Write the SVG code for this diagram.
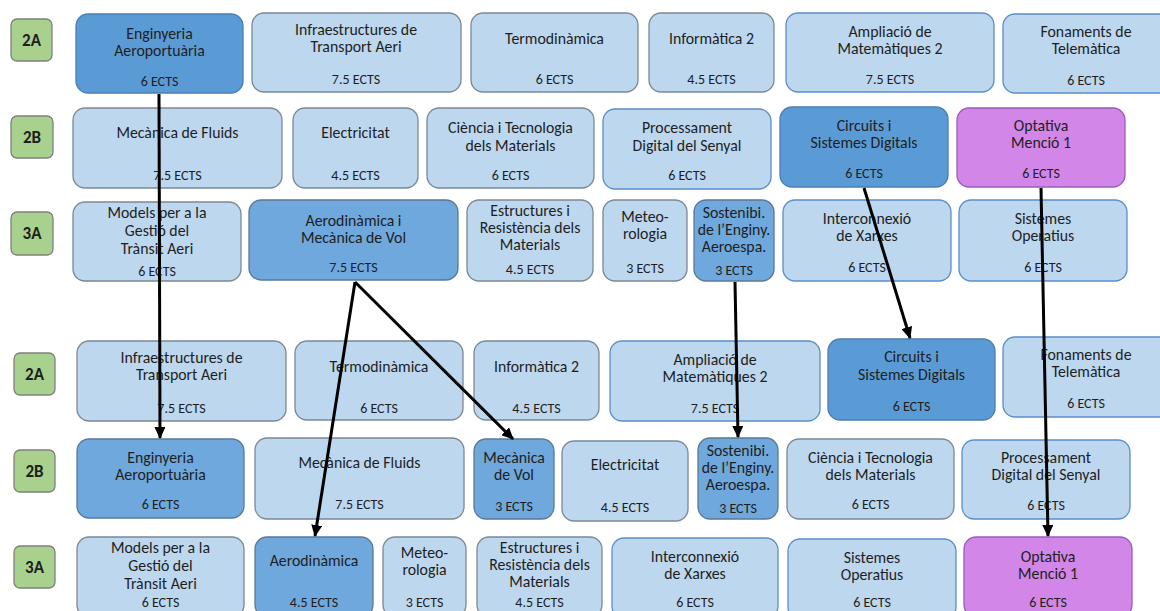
<svg xmlns="http://www.w3.org/2000/svg" width="1160" height="611" viewBox="0 0 1160 611">
<style>
rect{stroke-width:1.3}
.n{fill:#bdd7ee;stroke:#7b8896}
.nb{fill:#bdd7ee;stroke:#5b8fc9}
.d{fill:#5b9bd5;stroke:#4a7fb5}
.m{fill:#6fa8dc;stroke:#5a7896}
.p{fill:#d186e8;stroke:#9d5bb8}
.g{fill:#a9d18e;stroke:#808080}
text{font-family:Carlito,Lato,"Open Sans",sans-serif;fill:#1e1e1e;text-anchor:middle}
.t{font-size:15.8px}
.e{font-size:14px}
.l{font-size:17px;font-weight:bold}
.c{stroke:#000;stroke-width:3;fill:none;marker-end:url(#ah)}
</style>
<defs>
<marker id="ah" markerUnits="userSpaceOnUse" markerWidth="12" markerHeight="11" viewBox="0 0 12 11" refX="11" refY="5.5" orient="auto"><path d="M0,0 L12,5.5 L0,11 z" fill="#000"/></marker>
</defs>

<g id="lbl-2A-top"><rect class="g" x="11" y="19" width="41" height="42" rx="6"/><text class="l" x="31.5" y="46">2A</text></g>
<g id="lbl-2B-top"><rect class="g" x="11" y="116" width="42" height="42" rx="6"/><text class="l" x="32" y="143">2B</text></g>
<g id="lbl-3A-top"><rect class="g" x="11" y="212" width="42" height="43" rx="6"/><text class="l" x="32" y="239">3A</text></g>
<g id="lbl-2A-bot"><rect class="g" x="14" y="353" width="41" height="42" rx="6"/><text class="l" x="34.5" y="380">2A</text></g>
<g id="lbl-2B-bot"><rect class="g" x="14" y="450" width="41" height="42" rx="6"/><text class="l" x="34.5" y="477">2B</text></g>
<g id="lbl-3A-bot"><rect class="g" x="14" y="546" width="41" height="42" rx="6"/><text class="l" x="34.5" y="573">3A</text></g>

<g id="n1"><rect class="d" x="76" y="14" width="167" height="79" rx="12"/><text class="t" x="159.5" y="38.5">Enginyeria</text><text class="t" x="159.5" y="56">Aeroportuària</text><text class="e" x="159.5" y="86">6 ECTS</text></g>
<g id="n2"><rect class="n" x="252" y="13" width="209" height="79" rx="12"/><text class="t" x="356" y="34.5">Infraestructures de</text><text class="t" x="356" y="52">Transport Aeri</text><text class="e" x="356" y="84">7.5 ECTS</text></g>
<g id="n3"><rect class="n" x="471" y="13" width="167" height="79" rx="12"/><text class="t" x="554.5" y="44">Termodinàmica</text><text class="e" x="554.5" y="84">6 ECTS</text></g>
<g id="n4"><rect class="n" x="649" y="13" width="125" height="79" rx="12"/><text class="t" x="711.5" y="44">Informàtica 2</text><text class="e" x="711.5" y="84">4.5 ECTS</text></g>
<g id="n5"><rect class="nb" x="786" y="13" width="208" height="79" rx="12"/><text class="t" x="890" y="36.5">Ampliació de</text><text class="t" x="890" y="54">Matemàtiques 2</text><text class="e" x="890" y="84">7.5 ECTS</text></g>
<g id="n6"><rect class="nb" x="1003" y="14" width="170" height="79" rx="12"/><text class="t" x="1086" y="36.5">Fonaments de</text><text class="t" x="1086" y="54">Telemàtica</text><text class="e" x="1086" y="85">6 ECTS</text></g>

<g id="n7"><rect class="n" x="73" y="108" width="209" height="80" rx="12"/><text class="t" x="177.5" y="138">Mecànica de Fluids</text><text class="e" x="177.5" y="180">7.5 ECTS</text></g>
<g id="n8"><rect class="n" x="293" y="108" width="125" height="80" rx="12"/><text class="t" x="355.5" y="138">Electricitat</text><text class="e" x="355.5" y="180">4.5 ECTS</text></g>
<g id="n9"><rect class="n" x="427" y="108" width="167" height="80" rx="12"/><text class="t" x="510.5" y="133">Ciència i Tecnologia</text><text class="t" x="510.5" y="151">dels Materials</text><text class="e" x="510.5" y="180">6 ECTS</text></g>
<g id="n10"><rect class="nb" x="603" y="109" width="168" height="80" rx="12"/><text class="t" x="687" y="133">Processament</text><text class="t" x="687" y="151">Digital del Senyal</text><text class="e" x="687" y="180">6 ECTS</text></g>
<g id="n11"><rect class="d" x="780" y="107" width="168" height="80" rx="12"/><text class="t" x="864" y="130.5">Circuits i</text><text class="t" x="864" y="148">Sistemes Digitals</text><text class="e" x="864" y="178">6 ECTS</text></g>
<g id="n12"><rect class="p" x="957" y="108" width="168" height="79" rx="12"/><text class="t" x="1041" y="130.5">Optativa</text><text class="t" x="1041" y="148">Menció 1</text><text class="e" x="1041" y="178">6 ECTS</text></g>

<g id="n13"><rect class="n" x="73" y="202" width="168" height="79" rx="12"/><text class="t" x="157" y="218">Models per a la</text><text class="t" x="157" y="236">Gestió del</text><text class="t" x="157" y="254">Trànsit Aeri</text><text class="e" x="157" y="275.5">6 ECTS</text></g>
<g id="n14"><rect class="m" x="249" y="200" width="209" height="80" rx="12"/><text class="t" x="353.5" y="225.5">Aerodinàmica i</text><text class="t" x="353.5" y="243">Mecànica de Vol</text><text class="e" x="353.5" y="272">7.5 ECTS</text></g>
<g id="n15"><rect class="n" x="467" y="200" width="126" height="81" rx="12"/><text class="t" x="530" y="216">Estructures i</text><text class="t" x="530" y="233">Resistència dels</text><text class="t" x="530" y="250">Materials</text><text class="e" x="530" y="274">4.5 ECTS</text></g>
<g id="n16"><rect class="n" x="603" y="200" width="84" height="81" rx="12"/><text class="t" x="645" y="222">Meteo-</text><text class="t" x="645" y="239">rologia</text><text class="e" x="645" y="273">3 ECTS</text></g>
<g id="n17"><rect class="m" x="694" y="200" width="80" height="81" rx="12"/><text class="t" x="734" y="218">Sostenibi.</text><text class="t" x="734" y="235">de l’Enginy.</text><text class="t" x="734" y="252">Aeroespa.</text><text class="e" x="734" y="274.5">3 ECTS</text></g>
<g id="n18"><rect class="nb" x="783" y="200" width="168" height="81" rx="12"/><text class="t" x="867" y="224">Interconnexió</text><text class="t" x="867" y="241">de Xarxes</text><text class="e" x="867" y="272">6 ECTS</text></g>
<g id="n19"><rect class="nb" x="959" y="200" width="168" height="81" rx="12"/><text class="t" x="1043" y="224">Sistemes</text><text class="t" x="1043" y="241">Operatius</text><text class="e" x="1043" y="272">6 ECTS</text></g>

<g id="n20"><rect class="n" x="77" y="341" width="209" height="80" rx="12"/><text class="t" x="181.5" y="362.5">Infraestructures de</text><text class="t" x="181.5" y="380">Transport Aeri</text><text class="e" x="181.5" y="413">7.5 ECTS</text></g>
<g id="n21"><rect class="n" x="295" y="341" width="168" height="79" rx="12"/><text class="t" x="379" y="372">Termodinàmica</text><text class="e" x="379" y="413">6 ECTS</text></g>
<g id="n22"><rect class="n" x="474" y="341" width="125" height="79" rx="12"/><text class="t" x="536.5" y="372">Informàtica 2</text><text class="e" x="536.5" y="413">4.5 ECTS</text></g>
<g id="n23"><rect class="nb" x="610" y="341" width="210" height="80" rx="12"/><text class="t" x="715" y="364.5">Ampliació de</text><text class="t" x="715" y="382">Matemàtiques 2</text><text class="e" x="715" y="413">7.5 ECTS</text></g>
<g id="n24"><rect class="d" x="828" y="339" width="167" height="81" rx="12"/><text class="t" x="911.5" y="362">Circuits i</text><text class="t" x="911.5" y="379.5">Sistemes Digitals</text><text class="e" x="911.5" y="411">6 ECTS</text></g>
<g id="n25"><rect class="nb" x="1003" y="337" width="170" height="80" rx="12"/><text class="t" x="1086" y="359.5">Fonaments de</text><text class="t" x="1086" y="377">Telemàtica</text><text class="e" x="1086" y="408">6 ECTS</text></g>

<g id="n26"><rect class="m" x="77" y="439" width="167" height="79" rx="12"/><text class="t" x="160.5" y="462.5">Enginyeria</text><text class="t" x="160.5" y="480">Aeroportuària</text><text class="e" x="160.5" y="509">6 ECTS</text></g>
<g id="n27"><rect class="n" x="255" y="438" width="209" height="81" rx="12"/><text class="t" x="359.5" y="468">Mecànica de Fluids</text><text class="e" x="359.5" y="509">7.5 ECTS</text></g>
<g id="n28"><rect class="m" x="474" y="439" width="80" height="80" rx="12"/><text class="t" x="514" y="462.5">Mecànica</text><text class="t" x="514" y="480">de Vol</text><text class="e" x="514" y="511">3 ECTS</text></g>
<g id="n29"><rect class="n" x="562" y="441" width="126" height="80" rx="12"/><text class="t" x="625" y="470">Electricitat</text><text class="e" x="625" y="512">4.5 ECTS</text></g>
<g id="n30"><rect class="m" x="698" y="438" width="80" height="81" rx="12"/><text class="t" x="738" y="456">Sostenibi.</text><text class="t" x="738" y="473">de l’Enginy.</text><text class="t" x="738" y="490">Aeroespa.</text><text class="e" x="738" y="513">3 ECTS</text></g>
<g id="n31"><rect class="n" x="787" y="439" width="167" height="80" rx="12"/><text class="t" x="870.5" y="462.5">Ciència i Tecnologia</text><text class="t" x="870.5" y="480">dels Materials</text><text class="e" x="870.5" y="509">6 ECTS</text></g>
<g id="n32"><rect class="nb" x="962" y="440" width="168" height="79" rx="12"/><text class="t" x="1046" y="462.5">Processament</text><text class="t" x="1046" y="480">Digital del Senyal</text><text class="e" x="1046" y="510">6 ECTS</text></g>

<g id="n33"><rect class="n" x="77" y="537" width="167" height="80" rx="12"/><text class="t" x="160.5" y="552.5">Models per a la</text><text class="t" x="160.5" y="570.5">Gestió del</text><text class="t" x="160.5" y="588.5">Trànsit Aeri</text><text class="e" x="160.5" y="607">6 ECTS</text></g>
<g id="n34"><rect class="m" x="255" y="537" width="118" height="80" rx="12"/><text class="t" x="314" y="566">Aerodinàmica</text><text class="e" x="314" y="607">4.5 ECTS</text></g>
<g id="n35"><rect class="n" x="383" y="537" width="83" height="80" rx="12"/><text class="t" x="424.5" y="558">Meteo-</text><text class="t" x="424.5" y="575">rologia</text><text class="e" x="424.5" y="607">3 ECTS</text></g>
<g id="n36"><rect class="n" x="477" y="537" width="125" height="80" rx="12"/><text class="t" x="539.5" y="553">Estructures i</text><text class="t" x="539.5" y="570">Resistència dels</text><text class="t" x="539.5" y="587">Materials</text><text class="e" x="539.5" y="607">4.5 ECTS</text></g>
<g id="n37"><rect class="nb" x="612" y="538" width="166" height="80" rx="12"/><text class="t" x="695" y="561.5">Interconnexió</text><text class="t" x="695" y="579">de Xarxes</text><text class="e" x="695" y="607">6 ECTS</text></g>
<g id="n38"><rect class="nb" x="788" y="539" width="168" height="80" rx="12"/><text class="t" x="872" y="562.5">Sistemes</text><text class="t" x="872" y="580">Operatius</text><text class="e" x="872" y="607">6 ECTS</text></g>
<g id="n39"><rect class="p" x="964" y="537" width="168" height="80" rx="12"/><text class="t" x="1048" y="561.5">Optativa</text><text class="t" x="1048" y="579">Menció 1</text><text class="e" x="1048" y="607">6 ECTS</text></g>

<g id="connectors">
<line class="c" x1="159" y1="94" x2="160" y2="438"/>
<line class="c" x1="355" y1="282" x2="315" y2="536"/>
<line class="c" x1="355" y1="282" x2="513" y2="439"/>
<line class="c" x1="735" y1="282" x2="738" y2="437"/>
<line class="c" x1="864" y1="188" x2="910" y2="338"/>
<line class="c" x1="1041" y1="188" x2="1048" y2="536"/>
</g>
</svg>
